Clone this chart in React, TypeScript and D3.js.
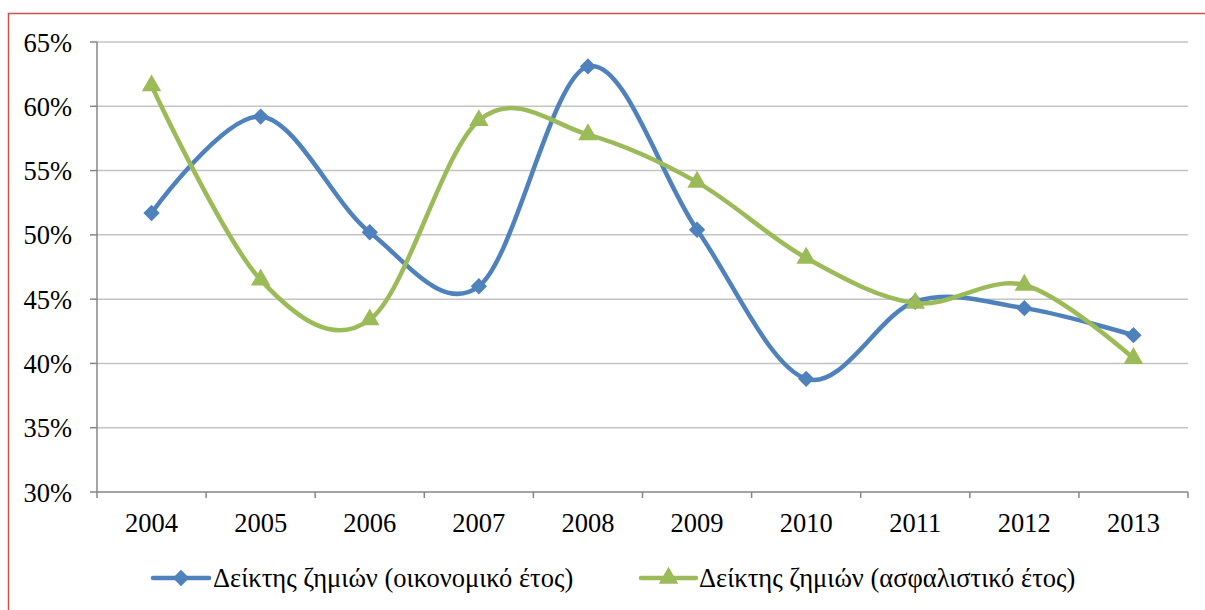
import React from "react";
import * as d3 from "d3";

const years = ["2004", "2005", "2006", "2007", "2008", "2009", "2010", "2011", "2012", "2013"];
const financialYear = [51.7, 59.2, 50.2, 46.0, 63.1, 50.4, 38.8, 44.8, 44.3, 42.2];
const underwritingYear = [61.6, 46.5, 43.4, 58.9, 57.8, 54.1, 48.2, 44.7, 46.1, 40.4];
const yTicks = [30, 35, 40, 45, 50, 55, 60, 65];
const seriesNames = ["Δείκτης ζημιών (οικονομικό έτος)", "Δείκτης ζημιών (ασφαλιστικό έτος)"];

const BLUE = "#4f81bd";
const GREEN = "#9bbb59";
const AXIS = "#868686";
const FONT = "Liberation Serif";
const FS = 26.5;

const width = 1205;
const height = 610;
const left = 97, right = 1188, top = 42, bottom = 492;

const x = d3.scaleBand().domain(years).range([left, right]);
const y = d3.scaleLinear().domain([30, 65]).range([bottom, top]);
const cx = (i: number) => (x(years[i]) as number) + x.bandwidth() / 2;

// Excel-style smoothed line
const line = d3.line<number>()
  .x((d, i) => cx(i))
  .y(d => y(d))
  .curve(d3.curveCardinal.tension(0));

const diamond = d3.symbol().type(d3.symbolDiamond2).size(170)() as string;
const triangle = d3.symbol().type(d3.symbolTriangle).size(165)() as string;

const series = [
  { name: seriesNames[0], values: financialYear, color: BLUE, symbol: diamond, lx1: 153, lx2: 209, tx: 213 },
  { name: seriesNames[1], values: underwritingYear, color: GREEN, symbol: triangle, lx1: 641, lx2: 696, tx: 699 },
];

const App = () => {
  const boundaries = years.map(d => x(d) as number).concat([right]);
  const legendY = 578;
  return (
    <svg width={width} height={height} style={{ position: "absolute", left: 0, top: 0 }}>
      {/* outer border */}
      <rect x={8.5} y={13.5} width={1210} height={620} fill="white" stroke="#cf4f4f" strokeWidth={1.5} />

      {/* gridlines */}
      {yTicks.filter(t => t > 30).map(t => (
        <line key={t} x1={left} x2={right} y1={y(t)} y2={y(t)} stroke="#c4c4c4" strokeWidth={1.5} />
      ))}

      {/* y axis */}
      <line x1={left} x2={left} y1={top} y2={bottom} stroke={AXIS} strokeWidth={1.5} />
      {yTicks.map(t => (
        <g key={t}>
          <line x1={left - 7} x2={left} y1={y(t)} y2={y(t)} stroke={AXIS} strokeWidth={1.5} />
          <text x={72} y={y(t)} dy="0.36em" textAnchor="end" fontSize={FS} fontFamily={FONT}>{`${t}%`}</text>
        </g>
      ))}

      {/* x axis */}
      <line x1={left} x2={right} y1={bottom} y2={bottom} stroke={AXIS} strokeWidth={1.5} />
      {boundaries.map(b => (
        <line key={b} x1={b} x2={b} y1={bottom} y2={bottom + 6} stroke={AXIS} strokeWidth={1.5} />
      ))}
      {years.map((yr, i) => (
        <text key={yr} x={cx(i)} y={532} textAnchor="middle" fontSize={FS} fontFamily={FONT}>{yr}</text>
      ))}

      {/* series */}
      {series.map(s => (
        <g key={s.name}>
          <path d={line(s.values) as string} fill="none" stroke={s.color} strokeWidth={4.5} strokeLinejoin="round" />
          {s.values.map((v, i) => (
            <path key={i} d={s.symbol} transform={`translate(${cx(i)},${y(v)})`} fill={s.color} />
          ))}
        </g>
      ))}

      {/* legend */}
      {series.map(s => (
        <g key={"lg" + s.name}>
          <line x1={s.lx1} x2={s.lx2} y1={legendY} y2={legendY} stroke={s.color} strokeWidth={4.5} strokeLinecap="round" />
          <path d={s.symbol} transform={`translate(${(s.lx1 + s.lx2) / 2},${legendY})`} fill={s.color} />
          <text x={s.tx} y={legendY + 9} fontSize={FS} fontFamily={FONT}>{s.name}</text>
        </g>
      ))}
    </svg>
  );
};

export default App;
